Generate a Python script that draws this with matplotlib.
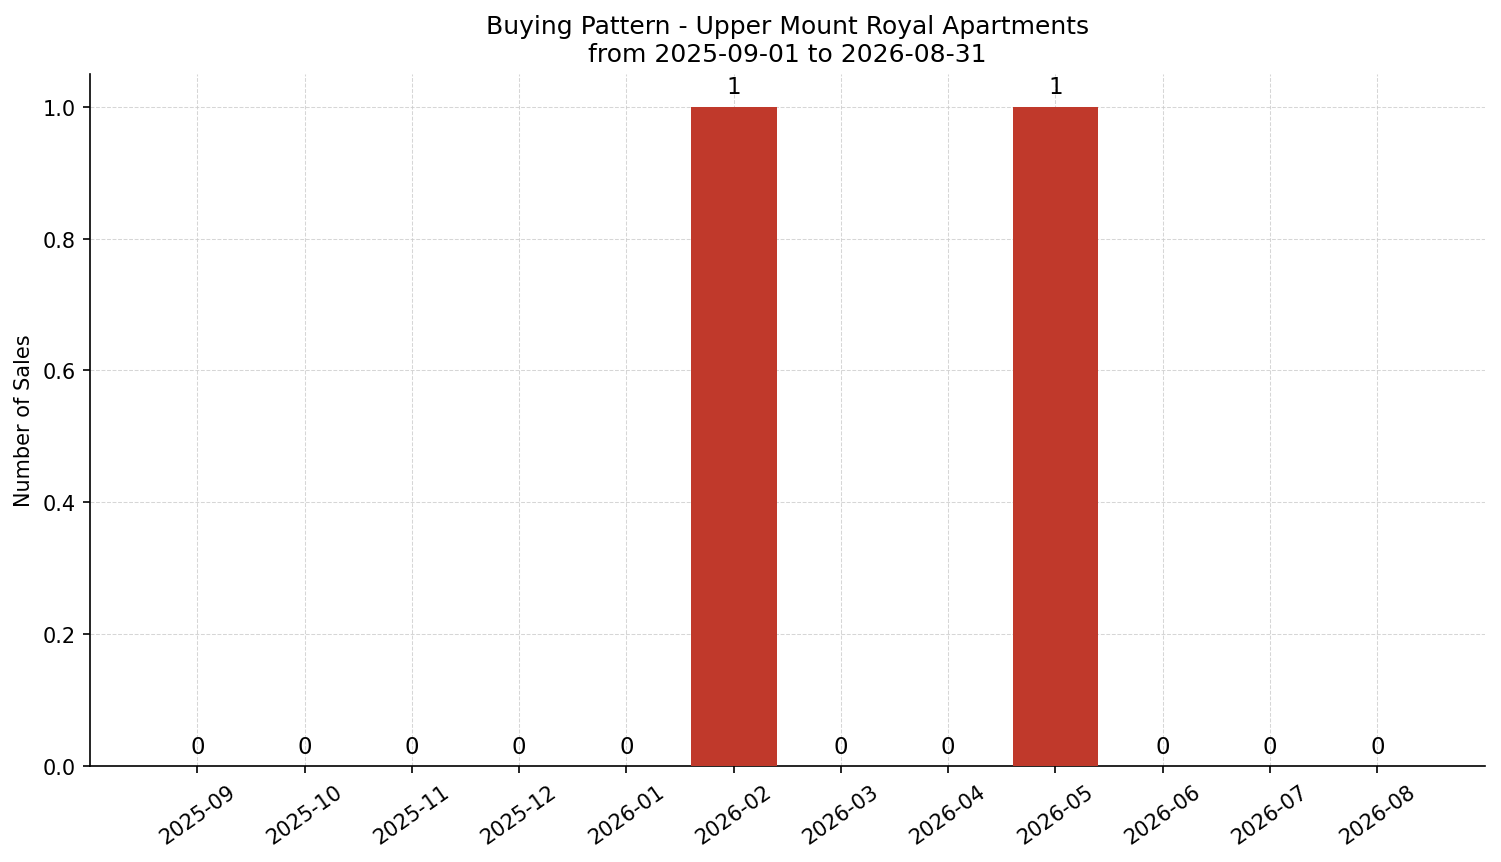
import numpy as np
import matplotlib.pyplot as plt

months = ['2025-09', '2025-10', '2025-11', '2025-12', '2026-01', '2026-02',
          '2026-03', '2026-04', '2026-05', '2026-06', '2026-07', '2026-08']
sales = [0, 0, 0, 0, 0, 1, 0, 0, 1, 0, 0, 0]

fig, ax = plt.subplots(figsize=(10.007, 5.753), dpi=150)
fig.subplots_adjust(left=0.06, right=0.989, bottom=0.111, top=0.9135)

x = np.arange(len(months))
bars = ax.bar(x, sales, width=0.8, color='#c0392b', zorder=3)

# etykiety nad slupkami
for b, v in zip(bars, sales):
    ax.annotate(str(v), (b.get_x() + b.get_width() / 2, b.get_height()),
                xytext=(0, 4), textcoords='offset points',
                ha='center', va='bottom', fontsize=11)

ax.set_xticks(x)
ax.set_xticklabels(months, rotation=35)
ax.set_xlim(-1, 12)
ax.set_ylim(0, 1.05)
ax.set_ylabel('Number of Sales')
ax.set_title('Buying Pattern - Upper Mount Royal Apartments\nfrom 2025-09-01 to 2026-08-31',
             fontsize=12)
ax.grid(True, linestyle='--', linewidth=0.5, color='#cccccc', alpha=0.8, zorder=0)
ax.spines['top'].set_visible(False)
ax.spines['right'].set_visible(False)

plt.savefig('out.png', dpi=150)
